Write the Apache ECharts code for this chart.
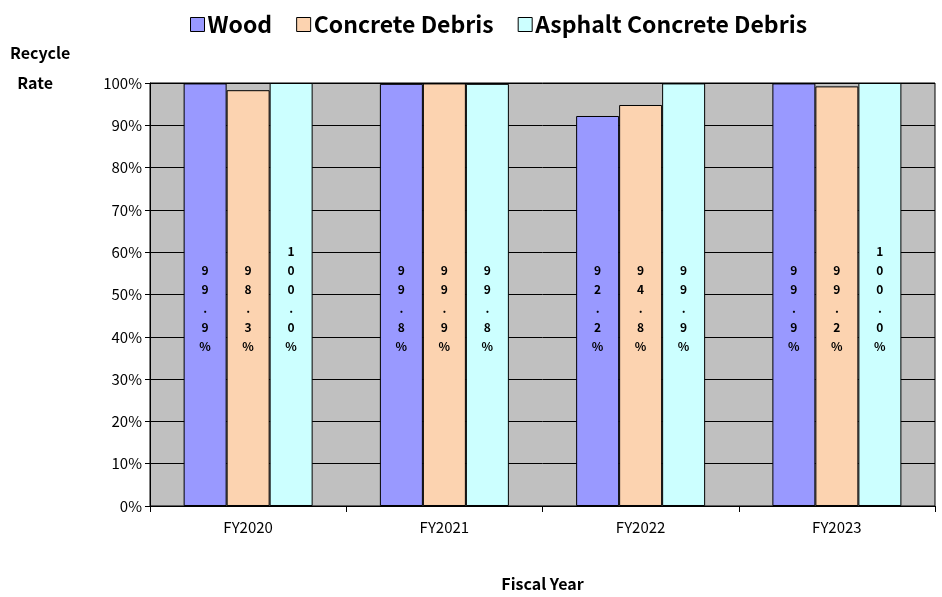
<!DOCTYPE html>
<html><head><meta charset="utf-8">
<script src="https://cdn.jsdelivr.net/npm/echarts@6/dist/echarts.min.js"></script>
<style>html,body{margin:0;background:#fff}#main{width:942px;height:597px}</style>
</head><body><div id="main"></div>
<script>
var years = ['FY2020', 'FY2021', 'FY2022', 'FY2023'];
var wood = [99.9, 99.8, 92.2, 99.9];
var concrete = [98.3, 99.9, 94.8, 99.2];
var asphalt = [100.0, 99.8, 99.9, 100.0];
var seriesNames = ['Wood', 'Concrete Debris', 'Asphalt Concrete Debris'];
var colors = ['#9999ff', '#fcd3b0', '#ccffff'];
var font = '"Noto Sans CJK JP", sans-serif';

function makeSeries(name, data, color) {
  return {
    name: name, type: 'bar', data: data, barWidth: 43, barGap: '0%',
    itemStyle: {color: color, borderColor: '#000', borderWidth: 1},
    label: {
      show: true, position: 'insideBottom', distance: 150,
      fontFamily: font, fontSize: 12, fontWeight: 'bold', lineHeight: 19, color: '#000',
      formatter: function (p) { return (p.value.toFixed(1) + '%').split('').join('\n'); }
    }
  };
}

var chart = echarts.init(document.getElementById('main'));
chart.setOption({
  animation: false,
  color: colors,
  legend: {
    top: 8, left: 185, itemWidth: 14, itemHeight: 14, itemGap: 24,
    icon: 'rect',
    itemStyle: {borderColor: '#000', borderWidth: 1},
    textStyle: {fontFamily: font, fontSize: 23, fontWeight: 'bold', color: '#000', padding: [0, 0, 0, -2]},
    data: seriesNames
  },
  graphic: [{type: 'text', left: 10, top: 38,
    style: {text: 'Recycle\n  Rate', font: 'bold 16px "Noto Sans CJK JP"', lineHeight: 30, fill: '#000'}}],
  grid: {left: 150, right: 7, top: 83, bottom: 90, show: true, backgroundColor: '#c0c0c0', borderColor: '#000', borderWidth: 1},
  xAxis: {
    type: 'category', data: years, name: 'Fiscal Year', nameLocation: 'middle', nameGap: 70,
    nameTextStyle: {fontFamily: font, fontSize: 16, fontWeight: 'bold', color: '#000'},
    axisLine: {lineStyle: {color: '#000'}},
    axisTick: {show: true, length: 6, lineStyle: {color: '#000'}},
    axisLabel: {fontFamily: font, fontSize: 15, color: '#000', margin: 14}
  },
  yAxis: {
    type: 'value', min: 0, max: 100, interval: 10,
    axisLine: {show: true, lineStyle: {color: '#000'}},
    axisTick: {show: true, length: 5, lineStyle: {color: '#000'}},
    splitLine: {lineStyle: {color: '#000', width: 1}},
    axisLabel: {fontFamily: font, fontSize: 15, color: '#000', formatter: '{value}%'}
  },
  series: [makeSeries(seriesNames[0], wood, colors[0]),
           makeSeries(seriesNames[1], concrete, colors[1]),
           makeSeries(seriesNames[2], asphalt, colors[2])]
});
</script></body></html>
